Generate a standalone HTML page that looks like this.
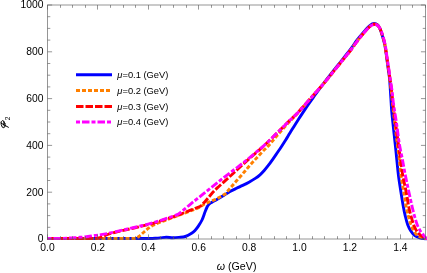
<!DOCTYPE html><html><head><meta charset="utf-8"><style>html,body{margin:0;padding:0;background:#fff;}svg{display:block;}text{font-family:"Liberation Sans",sans-serif;}</style></head><body>
<svg width="427" height="273" viewBox="0 0 427 273">
<rect width="427" height="273" fill="#fff"/>
<defs><clipPath id="c"><rect x="47.00" y="3.50" width="380.50" height="237.20"/></clipPath></defs>
<g clip-path="url(#c)" fill="none" stroke-width="2.90" stroke-linejoin="round">
<path d="M47.50 238.45C65.00 238.45 82.50 238.45 100.00 238.45C116.67 238.45 133.33 238.52 150.00 238.45C152.00 238.44 154.00 238.31 156.00 238.20C157.34 238.13 158.67 238.03 160.00 237.90C162.10 237.70 164.19 237.22 166.30 237.20C168.44 237.18 170.56 237.77 172.70 237.80C174.80 237.83 176.91 237.62 179.00 237.40C181.11 237.18 183.28 237.16 185.30 236.50C187.54 235.77 189.61 234.55 191.60 233.30C192.86 232.51 193.97 231.48 195.00 230.40C196.18 229.17 197.25 227.82 198.20 226.40C199.59 224.34 200.94 222.24 202.00 220.00C203.25 217.36 204.03 214.52 205.10 211.80C205.73 210.19 206.35 208.56 207.10 207.00C207.42 206.32 207.84 205.69 208.30 205.10C208.71 204.58 209.17 204.10 209.70 203.70C210.42 203.16 211.22 202.75 212.00 202.30C213.76 201.28 215.55 200.32 217.30 199.30C219.55 197.99 221.78 196.65 224.00 195.30C226.01 194.08 227.95 192.75 230.00 191.60C232.12 190.41 234.32 189.37 236.50 188.30C238.55 187.30 240.65 186.40 242.70 185.40C244.82 184.37 246.94 183.34 249.00 182.20C251.14 181.01 253.27 179.77 255.30 178.40C256.94 177.30 258.52 176.11 260.00 174.80C261.50 173.47 262.87 172.00 264.20 170.50C265.71 168.80 267.12 167.01 268.50 165.20C269.85 163.44 271.11 161.61 272.40 159.80C273.61 158.11 274.81 156.41 276.00 154.70C277.01 153.24 278.02 151.78 279.00 150.30C280.02 148.78 281.01 147.24 282.00 145.70C283.34 143.61 284.68 141.51 286.00 139.40C287.22 137.44 288.39 135.46 289.60 133.50C290.73 131.66 291.86 129.83 293.00 128.00C294.00 126.40 294.99 124.80 296.00 123.20C296.99 121.63 297.99 120.06 299.00 118.50C300.06 116.86 301.12 115.23 302.20 113.60C303.46 111.69 304.72 109.79 306.00 107.90C307.42 105.79 308.85 103.69 310.30 101.60C311.51 99.85 312.76 98.13 314.00 96.40C315.26 94.63 316.51 92.85 317.80 91.10C319.04 89.42 320.34 87.77 321.60 86.10C322.77 84.54 323.90 82.94 325.10 81.40C328.80 76.64 332.56 71.93 336.30 67.20C339.22 63.51 342.19 59.85 345.10 56.15C347.02 53.71 348.95 51.29 350.80 48.80C353.08 45.74 355.16 42.52 357.50 39.50C359.93 36.38 362.48 33.36 365.10 30.40C366.68 28.62 368.23 26.77 370.10 25.30C371.24 24.41 372.56 23.50 374.00 23.40C375.28 23.31 376.64 23.94 377.60 24.80C378.76 25.84 379.39 27.37 380.00 28.80C381.03 31.22 381.75 33.77 382.50 36.30C383.35 39.18 384.22 42.06 384.80 45.00C385.62 49.20 386.10 53.46 386.70 57.70C387.30 61.90 387.83 66.10 388.40 70.30C388.76 72.93 389.24 75.55 389.50 78.20C389.91 82.36 390.12 86.53 390.40 90.70C390.68 94.90 390.93 99.10 391.20 103.30C391.36 105.87 391.47 108.44 391.70 111.00C392.17 116.17 392.75 121.33 393.30 126.50C393.88 132.00 394.52 137.50 395.10 143.00C395.65 148.17 396.17 153.33 396.70 158.50C397.27 164.00 397.71 169.51 398.40 175.00C399.05 180.18 399.89 185.34 400.70 190.50C401.56 196.01 402.41 201.51 403.40 207.00C403.95 210.05 404.56 213.09 405.30 216.10C406.03 219.09 406.72 222.11 407.80 225.00C408.63 227.21 409.71 229.33 411.00 231.30C412.06 232.92 413.25 234.54 414.80 235.70C416.26 236.79 418.05 237.38 419.80 237.90C421.45 238.39 423.19 238.50 424.90 238.70C425.76 238.80 426.63 238.77 427.50 238.80" stroke="#0000ff"/>
<path d="M47.50 238.45C76.50 238.45 105.50 238.66 134.50 238.45C135.36 238.44 136.23 238.18 137.00 237.80C137.92 237.35 138.71 236.66 139.50 236.00C141.05 234.72 142.48 233.31 144.00 232.00C145.48 230.71 146.92 229.37 148.50 228.20C149.93 227.14 151.44 226.19 153.00 225.34C154.51 224.51 156.10 223.81 157.70 223.16C159.77 222.31 161.90 221.63 164.00 220.85C166.10 220.08 168.20 219.29 170.30 218.50C172.40 217.71 174.50 216.90 176.60 216.10C180.83 214.50 185.08 212.92 189.30 211.30C192.54 210.06 195.86 208.99 199.00 207.50C201.01 206.54 202.73 205.04 204.70 204.00C206.40 203.10 208.23 202.47 210.00 201.70C212.43 200.64 214.94 199.72 217.30 198.50C220.11 197.05 222.77 195.30 225.50 193.70C227.00 191.93 228.49 190.16 230.00 188.40C231.66 186.46 233.32 184.52 235.00 182.60C236.85 180.49 238.76 178.43 240.60 176.30C243.86 172.53 246.98 168.62 250.30 164.90C254.45 160.25 258.72 155.72 263.00 151.20C264.78 149.32 266.77 147.63 268.50 145.70C272.21 141.56 275.64 137.18 279.30 133.00C283.00 128.78 286.78 124.62 290.60 120.50C292.81 118.12 295.20 115.90 297.40 113.50C300.57 110.03 303.61 106.44 306.70 102.90C310.01 99.11 313.29 95.29 316.60 91.50C319.49 88.19 322.48 84.97 325.30 81.60C329.12 77.04 332.76 72.32 336.50 67.70C339.42 64.09 342.39 60.52 345.30 56.90C347.22 54.52 349.15 52.14 351.00 49.70C353.29 46.67 355.38 43.50 357.70 40.50C360.15 37.33 362.66 34.21 365.30 31.19C366.87 29.40 368.44 27.58 370.30 26.10C371.41 25.22 372.69 24.33 374.10 24.20C375.42 24.08 376.88 24.55 377.90 25.40C379.06 26.37 379.59 27.92 380.20 29.30C381.20 31.57 381.99 33.93 382.70 36.30C383.56 39.17 384.34 42.06 384.90 45.00C385.71 49.20 386.18 53.46 386.80 57.70C387.41 61.90 388.01 66.10 388.60 70.30C388.97 72.93 389.35 75.56 389.70 78.20C390.25 82.36 390.83 86.53 391.30 90.70C391.77 94.89 392.07 99.10 392.50 103.30C392.77 105.87 393.10 108.43 393.40 111.00C394.00 116.17 394.59 121.33 395.20 126.50C395.85 132.00 396.51 137.50 397.20 143.00C397.95 149.00 398.81 154.99 399.50 161.00C400.04 165.66 400.25 170.36 400.90 175.00C401.75 181.03 403.01 186.99 404.00 193.00C404.77 197.66 405.32 202.36 406.20 207.00C406.78 210.07 407.60 213.08 408.40 216.10C409.20 219.09 409.91 222.11 411.00 225.00C411.82 227.19 412.83 229.33 414.10 231.30C415.15 232.93 416.32 234.58 417.90 235.70C419.57 236.88 421.64 237.39 423.60 238.00C424.86 238.39 426.20 238.47 427.50 238.70" stroke="#ff8000" stroke-dasharray="4 2"/>
<path d="M47.50 238.45C63.67 238.45 79.83 238.59 96.00 238.45C97.01 238.44 98.01 238.22 99.00 238.00C99.85 237.81 100.69 237.52 101.50 237.20C102.52 236.79 103.49 236.24 104.50 235.80C105.56 235.34 106.62 234.90 107.70 234.50C108.79 234.10 109.89 233.75 111.00 233.42C112.16 233.08 113.33 232.79 114.50 232.49C116.43 231.99 118.36 231.49 120.30 231.05C124.53 230.08 128.78 229.22 133.00 228.25C138.34 227.02 143.70 225.84 149.00 224.45C152.70 223.48 156.35 222.30 160.00 221.15C163.85 219.94 167.68 218.64 171.50 217.35C174.18 216.44 176.86 215.55 179.50 214.55C182.79 213.31 186.03 211.94 189.30 210.65C191.20 209.90 193.10 209.19 195.00 208.45C196.84 207.73 198.67 206.98 200.50 206.25C201.90 204.82 203.36 203.44 204.70 201.95C206.86 199.54 208.87 196.99 211.00 194.55C212.40 192.95 213.82 191.37 215.30 189.85C216.35 188.77 217.49 187.77 218.60 186.75C221.89 183.74 225.21 180.76 228.50 177.75C231.58 174.93 234.62 172.07 237.70 169.25C241.89 165.41 246.06 161.54 250.30 157.75C254.90 153.64 259.67 149.73 264.20 145.55C268.57 141.52 272.77 137.32 277.00 133.15C281.23 128.98 285.36 124.71 289.60 120.55C292.03 118.17 294.65 116.00 297.00 113.55C300.29 110.13 303.34 106.49 306.50 102.95C309.88 99.16 313.24 95.36 316.60 91.55C319.51 88.26 322.48 85.02 325.30 81.65C329.12 77.09 332.76 72.37 336.50 67.75C339.42 64.14 342.39 60.57 345.30 56.95C347.22 54.57 349.15 52.19 351.00 49.75C353.29 46.72 355.38 43.55 357.70 40.55C360.15 37.37 362.66 34.24 365.30 31.22C366.87 29.42 368.43 27.58 370.30 26.11C371.40 25.24 372.70 24.41 374.10 24.30C375.42 24.19 376.87 24.67 377.90 25.50C379.07 26.44 379.68 27.94 380.30 29.30C381.32 31.56 382.09 33.93 382.80 36.30C383.66 39.17 384.44 42.06 385.00 45.00C385.81 49.20 386.26 53.47 386.90 57.70C387.53 61.90 388.18 66.10 388.80 70.30C389.18 72.93 389.54 75.57 389.90 78.20C390.47 82.37 391.10 86.52 391.60 90.70C392.10 94.89 392.42 99.10 392.90 103.30C393.19 105.87 393.56 108.43 393.90 111.00C394.59 116.17 395.31 121.33 396.00 126.50C396.74 132.00 397.45 137.50 398.20 143.00C399.02 149.00 399.86 155.00 400.70 161.00C401.36 165.67 401.87 170.36 402.70 175.00C403.77 181.03 405.25 186.98 406.40 193.00C407.29 197.65 407.88 202.36 408.80 207.00C409.41 210.06 410.17 213.09 411.00 216.10C411.87 219.26 412.69 222.45 413.90 225.50C414.80 227.77 415.89 230.00 417.30 232.00C418.32 233.44 419.69 234.64 421.10 235.70C422.25 236.56 423.60 237.11 424.90 237.70C425.74 238.08 426.63 238.30 427.50 238.60" stroke="#ff0000" stroke-dasharray="7.5 2"/>
<path d="M47.50 238.45C52.33 238.42 57.17 238.46 62.00 238.35C65.34 238.28 68.67 238.09 72.00 237.90C74.67 237.74 77.34 237.53 80.00 237.30C82.67 237.07 85.34 236.84 88.00 236.50C90.34 236.20 92.66 235.73 95.00 235.40C97.00 235.12 99.01 234.97 101.00 234.66C103.24 234.32 105.48 233.92 107.70 233.46C111.91 232.58 116.10 231.60 120.30 230.65C124.54 229.69 128.77 228.74 133.00 227.75C138.34 226.50 143.70 225.36 149.00 223.95C152.71 222.96 156.34 221.72 160.00 220.55C163.85 219.32 167.69 218.08 171.50 216.75C173.79 215.95 176.03 215.02 178.30 214.15C179.87 212.92 181.46 211.71 183.00 210.45C185.36 208.51 187.64 206.48 190.00 204.55C193.30 201.85 196.67 199.22 200.00 196.55C203.33 193.88 206.66 191.20 210.00 188.55C215.56 184.14 221.09 179.70 226.70 175.35C230.33 172.53 234.07 169.86 237.70 167.05C241.94 163.76 246.15 160.45 250.30 157.05C254.99 153.21 259.70 149.40 264.20 145.35C268.60 141.39 272.77 137.18 277.00 133.05C281.23 128.92 285.36 124.68 289.60 120.55C292.03 118.18 294.65 116.00 297.00 113.55C300.29 110.13 303.34 106.49 306.50 102.95C309.88 99.16 313.24 95.36 316.60 91.55C319.51 88.26 322.48 85.02 325.30 81.65C329.12 77.09 332.76 72.37 336.50 67.75C339.42 64.14 342.39 60.57 345.30 56.95C347.22 54.57 349.15 52.19 351.00 49.75C353.29 46.72 355.38 43.55 357.70 40.55C360.15 37.37 362.65 34.23 365.30 31.22C366.86 29.45 368.43 27.65 370.30 26.21C371.41 25.35 372.70 24.51 374.10 24.40C375.42 24.29 376.85 24.78 377.90 25.60C379.07 26.51 379.76 27.96 380.40 29.30C381.47 31.55 382.27 33.92 383.00 36.30C383.87 39.16 384.64 42.06 385.20 45.00C386.01 49.20 386.46 53.47 387.10 57.70C387.73 61.90 388.38 66.10 389.00 70.30C389.38 72.93 389.71 75.57 390.10 78.20C390.71 82.37 391.45 86.52 392.00 90.70C392.55 94.89 392.86 99.11 393.40 103.30C393.73 105.88 394.20 108.43 394.60 111.00C395.40 116.17 396.26 121.32 397.00 126.50C397.79 131.99 398.30 137.53 399.20 143.00C400.20 149.03 401.56 155.00 402.70 161.00C403.59 165.66 404.37 170.35 405.30 175.00C406.50 181.01 407.81 187.01 409.10 193.00C410.11 197.67 411.11 202.35 412.20 207.00C412.91 210.05 413.65 213.09 414.50 216.10C415.35 219.09 416.16 222.11 417.30 225.00C418.16 227.19 419.27 229.29 420.50 231.30C421.38 232.74 422.54 233.99 423.60 235.30C424.24 236.09 424.82 236.94 425.60 237.60C426.15 238.06 426.87 238.27 427.50 238.60" stroke="#ff00ff" stroke-dasharray="4 2 7.5 2"/>
</g>
<g stroke="#5e5e5e" stroke-width="0.65" fill="none">
<rect x="47.50" y="5.00" width="378.05" height="234.00"/>
<path d="M47.50 239.00V234.40M47.50 5.00V9.60M60.50 239.00V236.20M60.50 5.00V7.80M72.50 239.00V236.20M72.50 5.00V7.80M85.50 239.00V236.20M85.50 5.00V7.80M97.50 239.00V234.40M97.50 5.00V9.60M110.50 239.00V236.20M110.50 5.00V7.80M123.50 239.00V236.20M123.50 5.00V7.80M135.50 239.00V236.20M135.50 5.00V7.80M148.50 239.00V234.40M148.50 5.00V9.60M160.50 239.00V236.20M160.50 5.00V7.80M173.50 239.00V236.20M173.50 5.00V7.80M186.50 239.00V236.20M186.50 5.00V7.80M198.50 239.00V234.40M198.50 5.00V9.60M211.50 239.00V236.20M211.50 5.00V7.80M223.50 239.00V236.20M223.50 5.00V7.80M236.50 239.00V236.20M236.50 5.00V7.80M249.50 239.00V234.40M249.50 5.00V9.60M261.50 239.00V236.20M261.50 5.00V7.80M274.50 239.00V236.20M274.50 5.00V7.80M286.50 239.00V236.20M286.50 5.00V7.80M299.50 239.00V234.40M299.50 5.00V9.60M312.50 239.00V236.20M312.50 5.00V7.80M324.50 239.00V236.20M324.50 5.00V7.80M337.50 239.00V236.20M337.50 5.00V7.80M349.50 239.00V234.40M349.50 5.00V9.60M362.50 239.00V236.20M362.50 5.00V7.80M375.50 239.00V236.20M375.50 5.00V7.80M387.50 239.00V236.20M387.50 5.00V7.80M400.50 239.00V234.40M400.50 5.00V9.60M412.50 239.00V236.20M412.50 5.00V7.80M425.50 239.00V236.20M425.50 5.00V7.80M47.50 239.00H52.10M425.55 239.00H420.95M47.50 227.30H50.30M425.55 227.30H422.75M47.50 215.60H50.30M425.55 215.60H422.75M47.50 203.90H50.30M425.55 203.90H422.75M47.50 192.20H52.10M425.55 192.20H420.95M47.50 180.50H50.30M425.55 180.50H422.75M47.50 168.80H50.30M425.55 168.80H422.75M47.50 157.10H50.30M425.55 157.10H422.75M47.50 145.40H52.10M425.55 145.40H420.95M47.50 133.70H50.30M425.55 133.70H422.75M47.50 122.00H50.30M425.55 122.00H422.75M47.50 110.30H50.30M425.55 110.30H422.75M47.50 98.60H52.10M425.55 98.60H420.95M47.50 86.90H50.30M425.55 86.90H422.75M47.50 75.20H50.30M425.55 75.20H422.75M47.50 63.50H50.30M425.55 63.50H422.75M47.50 51.80H52.10M425.55 51.80H420.95M47.50 40.10H50.30M425.55 40.10H422.75M47.50 28.40H50.30M425.55 28.40H422.75M47.50 16.70H50.30M425.55 16.70H422.75M47.50 5.00H52.10M425.55 5.00H420.95"/>
</g>
<g style="filter:grayscale(1)">
<g font-size="10.3" fill="#000">
<text x="47.50" y="250.8" text-anchor="middle">0.0</text>
<text x="97.91" y="250.8" text-anchor="middle">0.2</text>
<text x="148.31" y="250.8" text-anchor="middle">0.4</text>
<text x="198.72" y="250.8" text-anchor="middle">0.6</text>
<text x="249.13" y="250.8" text-anchor="middle">0.8</text>
<text x="299.53" y="250.8" text-anchor="middle">1.0</text>
<text x="349.94" y="250.8" text-anchor="middle">1.2</text>
<text x="400.35" y="250.8" text-anchor="middle">1.4</text>
<text x="43.4" y="242.40" text-anchor="end">0</text>
<text x="43.4" y="195.60" text-anchor="end">200</text>
<text x="43.4" y="148.80" text-anchor="end">400</text>
<text x="43.4" y="102.00" text-anchor="end">600</text>
<text x="43.4" y="55.20" text-anchor="end">800</text>
<text x="43.4" y="8.40" text-anchor="end">1000</text>
</g>
<text x="216.8" y="269.6" font-size="10.65" fill="#000"><tspan font-style="italic">ω</tspan> (GeV)</text>
<g stroke="#000" fill="none" stroke-linecap="round"><ellipse cx="3.1" cy="124.2" rx="1.9" ry="3.7" transform="rotate(-12 3.1 124.2)" stroke-width="0.9"/><path d="M1.0 123.1L8.4 127.3" stroke-width="1"/><path d="M3.7 121.4Q2.7 124 4.3 126.6" stroke-width="0.7"/></g>
<text transform="translate(9.6,120.2) rotate(-90)" font-size="6.6" fill="#000">2</text>
<text x="117.3" y="78.00" font-size="9.35" fill="#000"><tspan font-style="italic">μ</tspan>=0.1 (GeV)</text>
<text x="117.3" y="93.70" font-size="9.35" fill="#000"><tspan font-style="italic">μ</tspan>=0.2 (GeV)</text>
<text x="117.3" y="109.70" font-size="9.35" fill="#000"><tspan font-style="italic">μ</tspan>=0.3 (GeV)</text>
<text x="117.3" y="125.25" font-size="9.35" fill="#000"><tspan font-style="italic">μ</tspan>=0.4 (GeV)</text>
</g>
<path d="M76 74.80H112.00" stroke="#0000ff" stroke-width="2.90" fill="none"/>
<path d="M76 90.50H110.00" stroke="#ff8000" stroke-width="2.90" fill="none" stroke-dasharray="4 2"/>
<path d="M76 106.50H112.00" stroke="#ff0000" stroke-width="2.90" fill="none" stroke-dasharray="7.5 2"/>
<path d="M76 122.05H111.00" stroke="#ff00ff" stroke-width="2.90" fill="none" stroke-dasharray="4 2 7.5 2"/>
</svg></body></html>
